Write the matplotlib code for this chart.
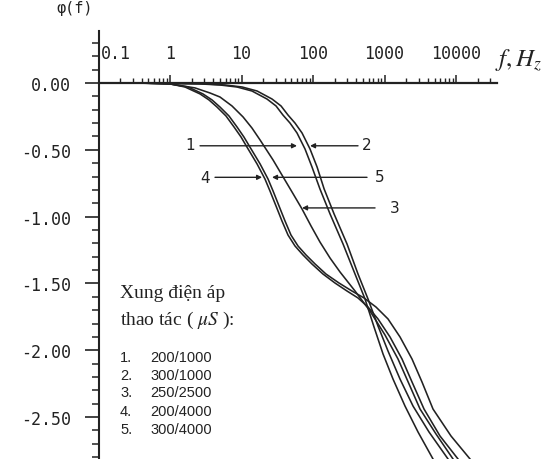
import matplotlib
matplotlib.use("Agg")
import matplotlib.pyplot as plt
from matplotlib.ticker import FixedLocator, FixedFormatter, LogLocator, MultipleLocator, NullFormatter

plt.rcParams['mathtext.fontset'] = 'stix'

# ---- data ----
f1 = [0.1, 0.525, 1, 2.63, 5.0, 8.65, 14.0, 22.7, 30.4, 38.0, 47.7, 59.7, 77.3, 96.8, 125, 173,
      263, 387, 534, 713, 953, 1315, 1935, 2941, 4764, 7015]
p1 = [0, 0, -0.004, -0.007, -0.015, -0.03, -0.06, -0.12, -0.172, -0.24, -0.30, -0.374, -0.494,
      -0.629, -0.793, -0.98, -1.205, -1.43, -1.617, -1.826, -2.028, -2.216, -2.418, -2.612, -2.814, -2.964]

f2 = [0.1, 0.617, 1, 3.09, 5.88, 10.2, 16.5, 26.7, 35.7, 44.7, 56.0, 70.2, 90.8, 114, 143, 197,
      299, 426, 588, 811, 1119, 1648, 2505, 4190, 7730, 12130]
p2 = [0, 0, -0.002, -0.007, -0.015, -0.03, -0.06, -0.12, -0.172, -0.24, -0.30, -0.374, -0.494,
      -0.629, -0.793, -0.98, -1.205, -1.43, -1.617, -1.819, -2.006, -2.216, -2.418, -2.612, -2.814, -2.964]

f3 = [0.1, 0.38, 1, 2.24, 3.63, 5.0, 7.36, 10.5, 14.0, 18.2, 27.6, 36.8, 50.9, 70.2, 93.8, 125,
      173, 239, 387, 627, 1016, 1545, 2203, 3138, 5250, 9080, 13370]
p3 = [0, 0, -0.007, -0.037, -0.075, -0.105, -0.172, -0.254, -0.337, -0.427, -0.576, -0.689, -0.816,
      -0.943, -1.07, -1.19, -1.31, -1.415, -1.557, -1.707, -1.886, -2.066, -2.253, -2.44, -2.627, -2.814, -2.964]

f4 = [0.1, 0.324, 1, 1.62, 2.63, 3.51, 4.54, 6.07, 7.85, 9.84, 11.9, 16.5, 21.3, 25.0, 30.4, 36.8,
      44.7, 56.0, 72.4, 96.8, 138, 203, 299, 426, 588, 811, 1194, 1757, 2425, 3567, 5970, 10660, 16740]
p4 = [0, 0, -0.007, -0.03, -0.082, -0.127, -0.18, -0.247, -0.329, -0.404, -0.479, -0.606, -0.719,
      -0.808, -0.921, -1.033, -1.138, -1.22, -1.287, -1.355, -1.43, -1.497, -1.557, -1.609, -1.677,
      -1.766, -1.901, -2.066, -2.238, -2.44, -2.642, -2.814, -2.964]

f5 = [0.1, 0.357, 1, 1.79, 2.89, 3.87, 5.0, 6.68, 8.65, 10.8, 13.1, 18.2, 23.5, 27.6, 33.5, 40.6,
      49.2, 61.7, 79.8, 107, 152, 231, 351, 517, 761, 1119, 1648, 2425, 3345, 4764, 8510, 15700, 24640]
p5 = [0, 0, -0.007, -0.03, -0.082, -0.127, -0.18, -0.247, -0.329, -0.404, -0.479, -0.606, -0.719,
      -0.808, -0.921, -1.033, -1.138, -1.22, -1.287, -1.355, -1.43, -1.497, -1.557, -1.609, -1.677,
      -1.766, -1.901, -2.066, -2.238, -2.44, -2.642, -2.814, -2.964]

x_ticks = [0.1, 1, 10, 100, 1000, 10000]
x_tick_labels = ['0.1', '1', '10', '100', '1000', '10000']
y_ticks = [0.0, -0.5, -1.0, -1.5, -2.0, -2.5]
y_tick_labels = ['0.00', '-0.50', '-1.00', '-1.50', '-2.00', '-2.50']

# curve labels: name, text position, arrow start, arrow end
lab_names = ['1', '2', '4', '5', '3']
lab_f = [1.9, 569, 3.09, 865, 1403]
lab_p = [-0.464, -0.464, -0.704, -0.70, -0.93]
arr_f0 = [2.63, 426, 4.26, 569, 737]
arr_f1 = [59.7, 90.8, 19.4, 26.7, 70.2]
arr_p = [-0.47, -0.47, -0.706, -0.706, -0.935]

legend_title = ['Xung điện áp', 'thao tác ( $\\mu S$ ):']
legend_nums = ['1.', '2.', '3.', '4.', '5.']
legend_vals = ['200/1000', '300/1000', '250/2500', '200/4000', '300/4000']

# ---- figure ----
W, H = 551, 460
fig = plt.figure(figsize=(W / 100, H / 100), dpi=100)
fig.patch.set_facecolor('white')
ax = fig.add_axes([98.5 / W, 0, (497 - 98.5) / W, (460 - 32) / H])
ax.set_facecolor('none')
ax.set_xscale('log')
ax.set_xlim(0.1, 10 ** 4.573)
ax.set_ylim(-2.814, 0.389)

col = '#222222'
for fx, px in [(f1, p1), (f2, p2), (f3, p3), (f4, p4), (f5, p5)]:
    ax.plot(fx, px, color=col, lw=1.15, solid_capstyle='round', solid_joinstyle='round')

# spines
ax.spines['top'].set_position(('data', 0))
ax.spines['top'].set_linewidth(1.6)
ax.spines['top'].set_color(col)
ax.spines['left'].set_linewidth(1.5)
ax.spines['left'].set_color(col)
ax.spines['right'].set_visible(False)
ax.spines['bottom'].set_visible(False)

ax.xaxis.tick_top()
ax.xaxis.set_major_locator(FixedLocator(x_ticks))
ax.xaxis.set_major_formatter(FixedFormatter([''] + x_tick_labels[1:]))
ax.xaxis.set_minor_locator(LogLocator(base=10, subs=[2, 3, 4, 5, 6, 7, 8, 9]))
ax.xaxis.set_minor_formatter(NullFormatter())
ax.tick_params(axis='x', which='major', direction='out', length=6, width=1.1, pad=9,
               labelsize=12, colors=col)
ax.tick_params(axis='x', which='minor', direction='out', length=3.5, width=1.0, colors=col)
for lab in ax.get_xticklabels():
    lab.set_family('DejaVu Sans Mono')

ax.yaxis.set_major_locator(FixedLocator(y_ticks))
ax.yaxis.set_major_formatter(FixedFormatter(y_tick_labels))
ax.yaxis.set_minor_locator(MultipleLocator(0.1))
ax.tick_params(axis='y', which='major', direction='out', length=10, width=1.2, pad=10,
               labelsize=12, colors=col)
ax.tick_params(axis='y', which='minor', direction='out', length=5, width=1.1, colors=col)
for lab in ax.get_yticklabels():
    lab.set_family('DejaVu Sans Mono')

# "0.1" label sits just right of the y axis
ax.annotate(x_tick_labels[0], xy=(x_ticks[0], 0), xytext=(2, 15), textcoords='offset points',
            ha='left', va='bottom', fontsize=12, family='DejaVu Sans Mono', color=col)

# axis titles
fig.text(75 / W, 1 - 9 / H, 'φ(f)', ha='center', va='center', fontsize=11,
         family='DejaVu Sans Mono', color=col)
fig.text(519 / W, 1 - 60 / H, '$f,H_z$', ha='center', va='center', fontsize=18, color=col)

# curve labels and arrows
for name, lf, lp, a0, a1, ap in zip(lab_names, lab_f, lab_p, arr_f0, arr_f1, arr_p):
    ax.text(lf, lp, name, ha='center', va='center', fontsize=11, family='DejaVu Sans', color=col)
    ax.annotate('', xy=(a1, ap), xytext=(a0, ap),
                arrowprops=dict(arrowstyle='-|>', lw=1.0, color=col, mutation_scale=7,
                                shrinkA=0, shrinkB=0))

# legend block
fig.text(120 / W, 1 - 293 / H, legend_title[0], ha='left', va='center', fontsize=14,
         family='Liberation Serif', color=col)
fig.text(120 / W, 1 - 320 / H, legend_title[1], ha='left', va='center', fontsize=14,
         family='Liberation Serif', color=col)
item_y = [358, 376, 393, 412, 430]
for num, val, yy in zip(legend_nums, legend_vals, item_y):
    fig.text(120 / W, 1 - yy / H, num, ha='left', va='center', fontsize=10.5,
             family='Liberation Sans', color=col)
    fig.text(150 / W, 1 - yy / H, val, ha='left', va='center', fontsize=10.5,
             family='Liberation Sans', color=col)

fig.savefig('out.png', dpi=100)
